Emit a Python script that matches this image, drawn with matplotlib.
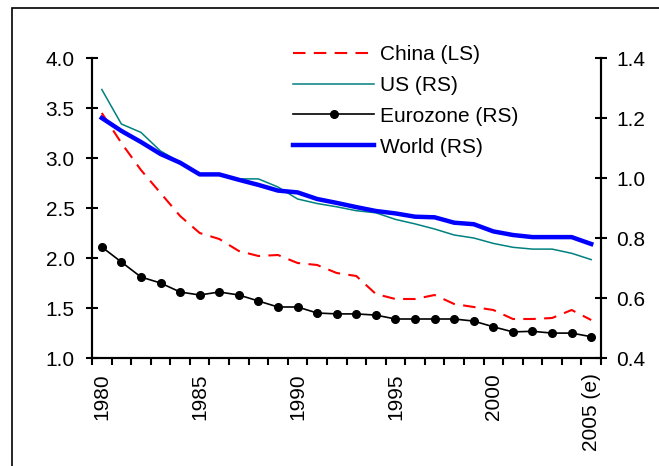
import numpy as np
import matplotlib
matplotlib.use('Agg')
import matplotlib.pyplot as plt
from matplotlib.patches import Rectangle

plt.rcParams['font.family'] = ['Liberation Sans', 'DejaVu Sans']

# Dados (1980 - 2005e)
years = list(range(1980, 2006))
year_labels = ['1980', '1985', '1990', '1995', '2000', '2005 (e)']

china = [3.45, 3.15, 2.88, 2.65, 2.42, 2.25, 2.19, 2.07, 2.02, 2.03,
         1.95, 1.93, 1.85, 1.82, 1.64, 1.59, 1.59, 1.63, 1.54, 1.51,
         1.48, 1.39, 1.39, 1.40, 1.48, 1.38]
us = [1.295, 1.18, 1.152, 1.09, 1.053, 1.012, 1.012, 0.997, 0.997, 0.97,
      0.93, 0.915, 0.904, 0.891, 0.884, 0.862, 0.847, 0.83, 0.81, 0.80,
      0.782, 0.769, 0.763, 0.763, 0.749, 0.728]
eurozone = [0.77, 0.72, 0.67, 0.65, 0.62, 0.61, 0.62, 0.61, 0.59, 0.57,
            0.57, 0.55, 0.547, 0.547, 0.543, 0.53, 0.53, 0.53, 0.53, 0.523,
            0.504, 0.487, 0.489, 0.483, 0.483, 0.471]
world = [1.20, 1.157, 1.12, 1.08, 1.051, 1.012, 1.012, 0.994, 0.977, 0.958,
         0.952, 0.93, 0.917, 0.903, 0.89, 0.882, 0.871, 0.869, 0.851, 0.846,
         0.822, 0.81, 0.803, 0.803, 0.803, 0.78]

x = np.arange(len(years))

fig = plt.figure(figsize=(6.59, 4.66), dpi=100)
ax = fig.add_axes([92/659, 1 - 358/466, (601 - 92)/659, 300/466])
ax2 = ax.twinx()

l1, = ax.plot(x, china, color='red', lw=1.5, dashes=(6, 4), label='China (LS)')
l2, = ax2.plot(x, us, color='#008080', lw=1.1, label='US (RS)')
l3, = ax2.plot(x, eurozone, color='black', lw=1.2, marker='o', markersize=5.5,
               label='Eurozone (RS)')
l4, = ax2.plot(x, world, color='#0000FF', lw=3.2, label='World (RS)')

ax.set_xlim(-0.5, len(years) - 0.5)
ax.set_ylim(1.0, 4.0)
ax2.set_ylim(0.4, 1.4)
ax.set_yticks(np.arange(1.0, 4.01, 0.5))
ax2.set_yticks(np.arange(0.4, 1.41, 0.2))
ax.set_yticklabels([f'{v:.1f}' for v in np.arange(1.0, 4.01, 0.5)])
ax2.set_yticklabels([f'{v:.1f}' for v in np.arange(0.4, 1.41, 0.2)])

# marcas do eixo x nas fronteiras das categorias, rótulos nos centros
ax.set_xticks(np.arange(-0.5, len(years)))
ax.set_xticklabels([])
label_pos = [years.index(int(s[:4])) for s in year_labels]
ax.set_xticks(label_pos, minor=True)
ax.set_xticklabels(year_labels, minor=True, rotation=90, fontsize=15)
ax.tick_params(axis='x', which='major', direction='out', length=5, width=1.5)
ax.tick_params(axis='x', which='minor', length=0, pad=11)

ax.tick_params(axis='y', direction='inout', length=9, width=1.5, labelsize=15, pad=8)
ax2.tick_params(axis='y', direction='inout', length=9, width=1.5, labelsize=15, pad=6.5)

for a in (ax, ax2):
    a.spines['top'].set_visible(False)
    for s in ('left', 'right', 'bottom'):
        a.spines[s].set_linewidth(1.5)

ax.legend(handles=[l1, l2, l3, l4], loc='upper left',
          bbox_to_anchor=(293/659, 1 - 45/466), bbox_transform=fig.transFigure,
          frameon=False, fontsize=15, handlelength=3.9, handletextpad=0.3,
          labelspacing=0.57, borderpad=0, borderaxespad=0)

# moldura
fig.add_artist(Rectangle((12/659, -0.1), 1.2, 1 - 8/466 + 0.1, fill=False,
                         edgecolor='black', lw=1.2, transform=fig.transFigure))

fig.savefig('out.png', dpi=100)
